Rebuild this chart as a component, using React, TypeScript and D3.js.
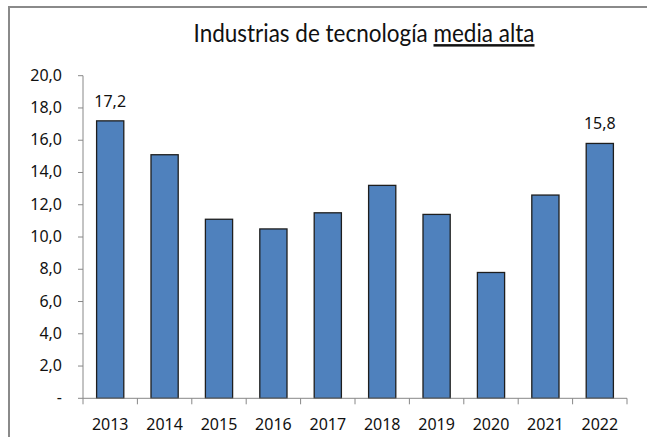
import React from "react";
import * as d3 from "d3";

const years = ["2013", "2014", "2015", "2016", "2017", "2018", "2019", "2020", "2021", "2022"];
const values = [17.2, 15.1, 11.1, 10.5, 11.5, 13.2, 11.4, 7.8, 12.6, 15.8];
const yTicks = [0, 2, 4, 6, 8, 10, 12, 14, 16, 18, 20];
const labeledYears = ["2013", "2022"];
const titleMain = "Industrias de tecnología ";
const titleUnderlined = "media alta";

const W = 647;
const H = 437;
const plot = { left: 83, right: 627, top: 75.7, bottom: 398.3 };
const numFont = "'Noto Sans', 'Open Sans', sans-serif";

const fmt = (v: number) => (v === 0 ? "-" : v.toFixed(1).replace(".", ","));

export default function App() {
  const x = d3.scaleBand<string>().domain(years).range([plot.left, plot.right]).paddingInner(0.5).paddingOuter(0.25);
  const xb = d3.scaleBand<string>().domain(years).range([plot.left, plot.right]);
  const y = d3.scaleLinear().domain([0, 20]).range([plot.bottom, plot.top]);

  return (
    <svg width={W} height={H} style={{ position: "absolute", left: 0, top: 0, background: "#fff" }}>
      <rect x={9} y={7} width={W + 20} height={H + 20} fill="#fff" stroke="#8a8a8a" strokeWidth={2} />
      <g transform="translate(364,42) scale(0.9,1)">
        <text x={0} y={0} textAnchor="middle" fontFamily="Lato, 'Open Sans', sans-serif" fontSize={25} fill="#111">
          <tspan>{titleMain}</tspan>
          <tspan textDecoration="underline">{titleUnderlined}</tspan>
        </text>
      </g>
      {/* y axis */}
      <line x1={plot.left} x2={plot.left} y1={plot.top} y2={plot.bottom} stroke="#888" strokeWidth={1} />
      {yTicks.map((t) => (
        <g key={t}>
          <line x1={plot.left - 5} x2={plot.left} y1={y(t)} y2={y(t)} stroke="#888" strokeWidth={1} />
          <text x={62} y={y(t) + 5} textAnchor="end" fontFamily={numFont} fontSize={16} fill="#111">
            {fmt(t)}
          </text>
        </g>
      ))}
      {/* bars */}
      {years.map((yr, i) => (
        <rect
          key={yr}
          x={x(yr)!}
          y={y(values[i])}
          width={x.bandwidth()}
          height={plot.bottom - y(values[i])}
          fill="#4F81BD"
          stroke="#1e1e1e"
          strokeWidth={1.3}
        />
      ))}
      {/* x axis */}
      <line x1={plot.left} x2={plot.right} y1={plot.bottom} y2={plot.bottom} stroke="#888" strokeWidth={1} />
      {[...years.map((yr) => xb(yr)!), plot.right].map((p, i) => (
        <line key={i} x1={p} x2={p} y1={plot.bottom} y2={plot.bottom + 6} stroke="#888" strokeWidth={1} />
      ))}
      {years.map((yr) => (
        <text key={yr} x={xb(yr)! + xb.bandwidth() / 2} y={430} textAnchor="middle" fontFamily={numFont} fontSize={16} fill="#111">
          {yr}
        </text>
      ))}
      {/* data labels */}
      {years.map((yr, i) =>
        labeledYears.includes(yr) ? (
          <text
            key={yr}
            x={x(yr)! + x.bandwidth() / 2}
            y={y(values[i]) - 14}
            textAnchor="middle"
            fontFamily={numFont}
            fontSize={16}
            fill="#111"
          >
            {fmt(values[i])}
          </text>
        ) : null
      )}
    </svg>
  );
}
